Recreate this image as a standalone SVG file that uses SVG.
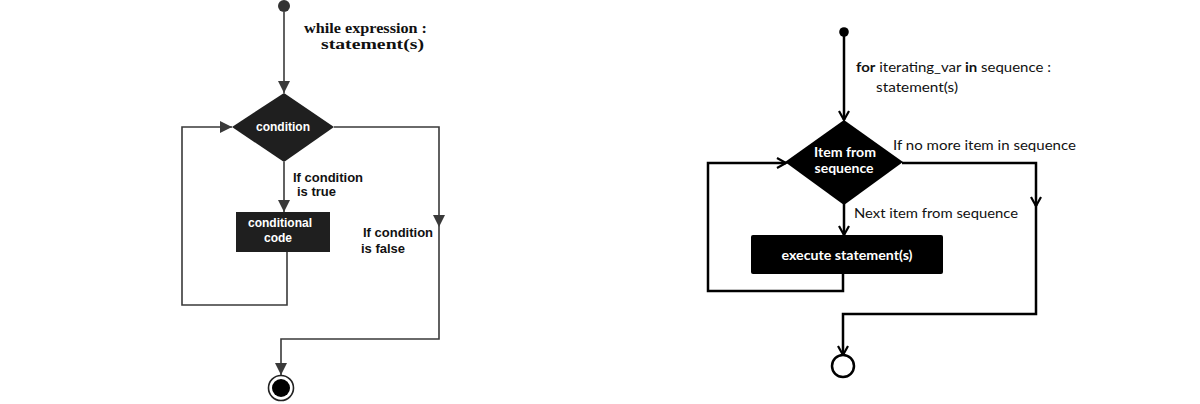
<svg xmlns="http://www.w3.org/2000/svg" width="1200" height="404" viewBox="0 0 1200 404">
<defs>
<style>
.lline{fill:none;stroke:#3a3a3a;stroke-width:1.6}
.rline{fill:none;stroke:#000;stroke-width:2.5}
.lfill{fill:#1f1f1f}
.lab{font-family:"Liberation Sans",Arial,sans-serif;font-weight:bold;font-size:13px;fill:#111}
.wlab{font-family:"Liberation Sans",Arial,sans-serif;font-weight:bold;font-size:12px;fill:#fff}
.ser{font-family:"Liberation Serif","DejaVu Serif",serif;font-weight:bold;font-size:15px;fill:#111}
.cal{font-family:Lato,"Open Sans",sans-serif;font-size:14px;fill:#111}
.calw{font-family:Lato,"Open Sans",sans-serif;font-weight:bold;font-size:14px;fill:#fff}
</style>
<marker id="fa" markerUnits="userSpaceOnUse" viewBox="0 0 12 12" refX="12" refY="6" markerWidth="12" markerHeight="12" orient="auto">
<path d="M0,0 L12,6 L0,12 z" fill="#3a3a3a"/>
</marker>
<marker id="oa" markerUnits="userSpaceOnUse" viewBox="-2 -2 14 14" refX="9" refY="5" markerWidth="14" markerHeight="14" orient="auto">
<path d="M0,0 L9,5 L0,10" fill="none" stroke="#000" stroke-width="2.2"/>
</marker>
</defs>
<rect width="1200" height="404" fill="#fff"/>

<g id="connectors">
<path class="lline" d="M284,12 V93" marker-end="url(#fa)"/>
<path class="lline" d="M284,162 V212" marker-end="url(#fa)"/>
<path class="lline" d="M287,252 V305 H182 V127 H232" marker-end="url(#fa)"/>
<path class="lline" d="M334,127 H439 V227" marker-end="url(#fa)"/>
<path class="lline" d="M439,227 V339 H281 V375" marker-end="url(#fa)"/>

<path class="rline" d="M844,36 V120" marker-end="url(#oa)"/>
<path class="rline" d="M844,204 V235" marker-end="url(#oa)"/>
<path class="rline" d="M843,274 V291 H708 V163 H786" marker-end="url(#oa)"/>
<path class="rline" d="M902,163 H1036 V206" marker-end="url(#oa)"/>
<path class="rline" d="M1036,205 V314 H843 V355" marker-end="url(#oa)"/>
</g>

<g id="while-start"><circle cx="284" cy="6" r="6" fill="#333"/></g>
<g id="while-label">
<text class="ser" x="304" y="33" textLength="123" lengthAdjust="spacingAndGlyphs">while expression :</text>
<text class="ser" x="321" y="49" textLength="103" lengthAdjust="spacingAndGlyphs">statement(s)</text>
</g>
<g id="condition">
<polygon class="lfill" points="284,93 334,127 284,162 232,127"/>
<text class="wlab" x="283" y="131" text-anchor="middle">condition</text>
</g>
<g id="true-label">
<text class="lab" x="293" y="182">If condition</text>
<text class="lab" x="297" y="196">is true</text>
</g>
<g id="conditional-code">
<rect class="lfill" x="236" y="212" width="94" height="40"/>
<text class="wlab" x="280" y="227" text-anchor="middle">conditional</text>
<text class="wlab" x="278" y="242" text-anchor="middle">code</text>
</g>
<g id="false-label">
<text class="lab" x="363" y="237">If condition</text>
<text class="lab" x="361" y="253">is false</text>
</g>
<g id="while-end">
<circle cx="281" cy="388" r="12.5" fill="#fff" stroke="#222" stroke-width="1.6"/>
<circle cx="281" cy="388" r="9" fill="#000"/>
</g>

<g id="for-start"><circle cx="844" cy="32" r="4.8" fill="#000"/></g>
<g id="for-label">
<text class="cal" x="856" y="72" textLength="195" lengthAdjust="spacingAndGlyphs"><tspan font-weight="bold">for</tspan> iterating_var <tspan font-weight="bold">in</tspan> sequence :</text>
<text class="cal" x="876" y="92" textLength="82" lengthAdjust="spacingAndGlyphs">statement(s)</text>
</g>
<g id="item-from-sequence">
<polygon points="844,120 903,162 844,205 785,162" fill="#000"/>
<text class="calw" x="845" y="157" text-anchor="middle" textLength="62" lengthAdjust="spacingAndGlyphs">Item from</text>
<text class="calw" x="844" y="173" text-anchor="middle" textLength="59" lengthAdjust="spacingAndGlyphs">sequence</text>
</g>
<g id="no-more-label">
<text class="cal" x="893" y="150" textLength="183" lengthAdjust="spacingAndGlyphs">If no more item in sequence</text>
</g>
<g id="next-label">
<text class="cal" x="854" y="218" textLength="164" lengthAdjust="spacingAndGlyphs">Next item from  sequence</text>
</g>
<g id="execute">
<rect x="751" y="235" width="192" height="39" rx="2" fill="#000"/>
<text class="calw" x="847" y="260" text-anchor="middle" textLength="131" lengthAdjust="spacingAndGlyphs">execute statement(s)</text>
</g>
<g id="for-end">
<circle cx="843" cy="366" r="11" fill="#fff" stroke="#000" stroke-width="2.5"/>
</g>
</svg>
